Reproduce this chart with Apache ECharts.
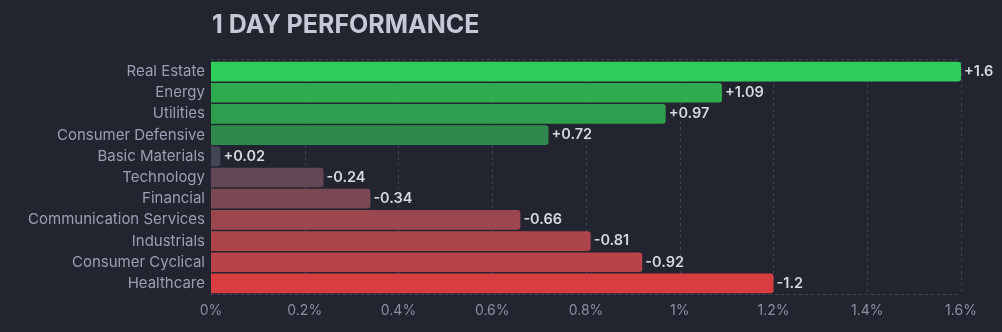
<!DOCTYPE html>
<html><head><meta charset="utf-8">
<script src="https://cdn.jsdelivr.net/npm/echarts@6/dist/echarts.min.js"></script>
<style>html,body{margin:0;padding:0;background:#22252f;}#c{width:1002px;height:332px;}</style>
</head><body><div id="c"></div>
<script>
const categories = ["Real Estate","Energy","Utilities","Consumer Defensive","Basic Materials","Technology","Financial","Communication Services","Industrials","Consumer Cyclical","Healthcare"];
const values = [1.6, 1.09, 0.97, 0.72, 0.02, -0.24, -0.34, -0.66, -0.81, -0.92, -1.2];
const barColors = ["#30cd5a","#2fac50","#2f9e4e","#30894c","#414554","#634653","#7a4752","#9c4650","#ac444b","#b8444a","#d93d42"];
const tickValues = [0,0.2,0.4,0.6,0.8,1,1.2,1.4,1.6];

const chart = echarts.init(document.getElementById('c'), null, {renderer:'canvas'});
const font = 'Inter, "Noto Sans", sans-serif';
chart.setOption({
  backgroundColor: '#22252f',
  animation: false,
  title: {text: '1 DAY PERFORMANCE', left: 207, top: 8,
    textStyle: {color: '#c6c8d6', fontSize: 25, fontWeight: 'bold', fontFamily: font}},
  grid: {left: 211, right: 41, top: 61, bottom: 38},
  xAxis: [{
    type: 'value', min: 0, max: 1.6, interval: 0.2, position: 'bottom',
    axisLine: {show: true, lineStyle: {color: '#3d414f', type: [3,3]}},
    axisTick: {show: false},
    splitLine: {show: true, lineStyle: {color: '#3d414f', type: [3,3]}},
    axisLabel: {color: '#8a8fa2', fontSize: 14, fontFamily: font, margin: 10,
      formatter: v => (Math.round(v*10)/10) + '%'}
  },{
    type: 'value', min: 0, max: 1.6, interval: 0.2, position: 'top', offset: 2,
    axisLine: {show: true, lineStyle: {color: '#3d414f', type: [3,3]}},
    axisTick: {show: false}, axisLabel: {show: false}, splitLine: {show: false}
  }],
  yAxis: {
    type: 'category', data: categories, inverse: true,
    axisLine: {show: false}, axisTick: {show: false},
    axisLabel: {color: '#9a9fb3', fontSize: 15, fontFamily: font, margin: 6}
  },
  series: [{
    type: 'bar', xAxisIndex: 0,
    barCategoryGap: '7%',
    data: values.map((v, i) => ({value: Math.abs(v), itemStyle: {color: barColors[i]}})),
    itemStyle: {borderRadius: [0,3,3,0]},
    label: {show: true, position: 'right', distance: 3, color: '#d6d8e0', fontSize: 14.5,
      fontWeight: 600, fontFamily: font,
      formatter: p => (values[p.dataIndex] > 0 ? '+' : '') + values[p.dataIndex]}
  }]
});
</script></body></html>
